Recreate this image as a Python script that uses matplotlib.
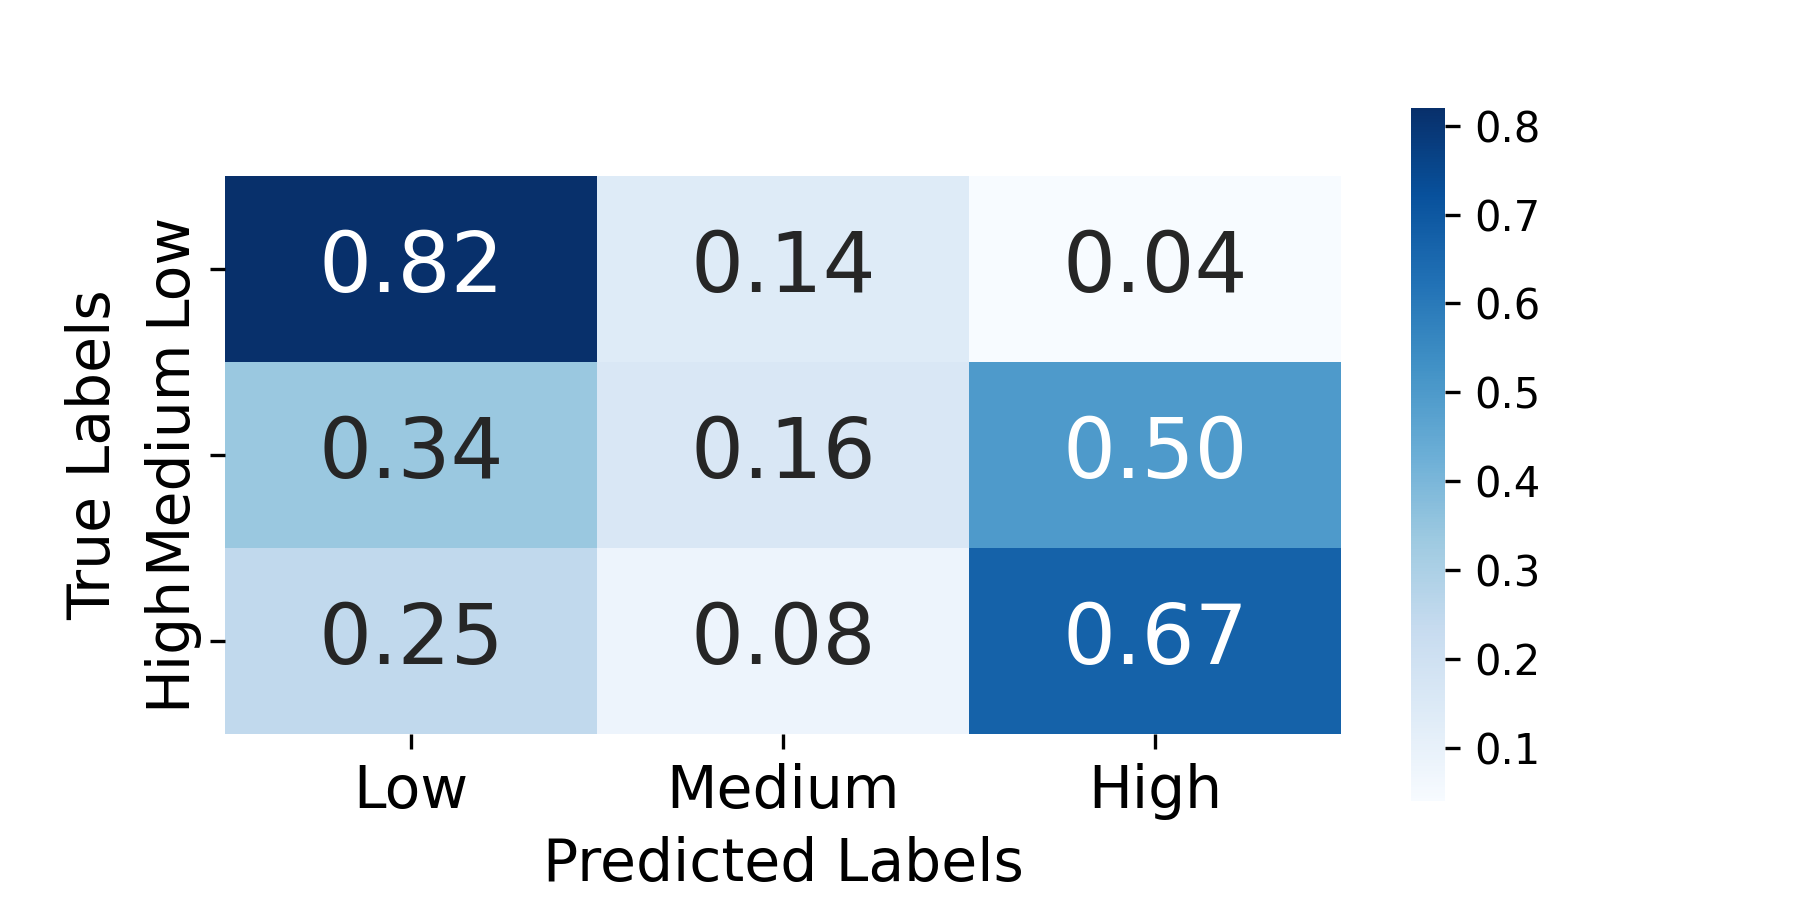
import numpy as np
import matplotlib
matplotlib.use("Agg")
import matplotlib.pyplot as plt
import seaborn as sns

labels = ["Low", "Medium", "High"]
row_low = [0.82, 0.14, 0.04]
row_medium = [0.34, 0.16, 0.50]
row_high = [0.25, 0.08, 0.67]

cm = np.array([row_low, row_medium, row_high])

fig = plt.figure(figsize=(6, 3), dpi=300)
ax = plt.subplot(111)
sns.heatmap(cm, annot=True, fmt=".2f", cmap="Blues", ax=ax,
            xticklabels=labels, yticklabels=labels,
            annot_kws={"fontsize": 20})
ax.set_aspect(0.5)

ax.tick_params(axis="both", labelsize=14)
ax.set_xlabel("Predicted Labels", fontsize=14)
ax.set_ylabel("True Labels", fontsize=14)

cbar = ax.collections[0].colorbar
cbar.ax.tick_params(labelsize=10)

plt.savefig("out.png", dpi=300)
